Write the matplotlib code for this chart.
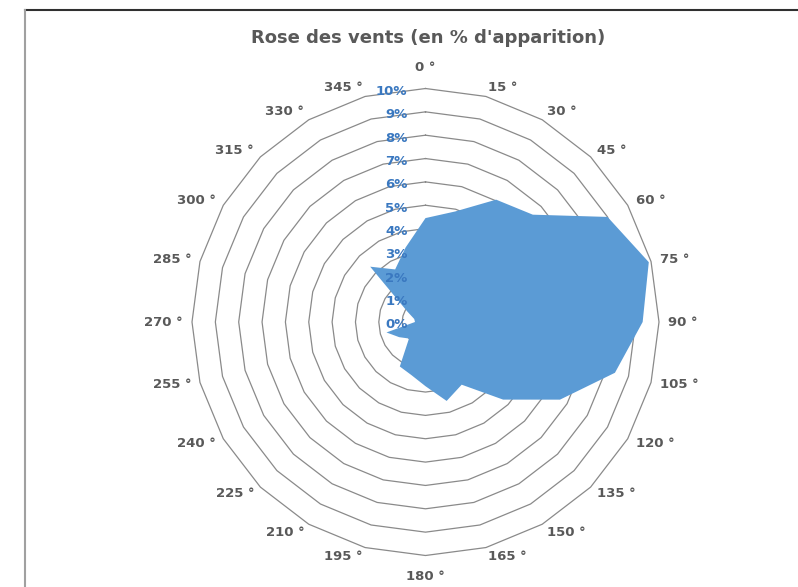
import numpy as np
import matplotlib
matplotlib.use("Agg")
import matplotlib.pyplot as plt
from matplotlib.lines import Line2D
from matplotlib.transforms import offset_copy

# ---- data ----
directions = [0, 15, 30, 45, 60, 75, 90, 105, 120, 135, 150, 165,
              180, 195, 210, 225, 240, 255, 270, 285, 300, 315, 330, 345]
frequency = [4.45, 4.9, 6.05, 6.5, 9.0, 9.9, 9.3, 8.4, 6.65, 4.7, 3.1, 3.5,
             2.75, 2.35, 2.2, 1.0, 1.3, 1.73, 0.45, 0.5, 0.9, 3.35, 2.6, 3.3]
ring_levels = [0, 1, 2, 3, 4, 5, 6, 7, 8, 9, 10]
title = "Rose des vents (en % d'apparition)"

FONT = "DejaVu Sans"
W, H = 798, 587
fig = plt.figure(figsize=(W / 100, H / 100), dpi=100)

cx, cy, R = 425.5, 322.0, 233.5
ax = fig.add_axes([(cx - R) / W, (H - cy - R) / H, 2 * R / W, 2 * R / H],
                  projection="polar")
ax.set_theta_zero_location("N")
ax.set_theta_direction(-1)
ax.set_ylim(0, 10)
ax.grid(False)
ax.set_xticks([])
ax.set_yticks([])
ax.spines["polar"].set_visible(False)
ax.patch.set_alpha(0)

theta = np.deg2rad(directions)
theta_c = np.append(theta, theta[0])

# ring gridlines (polygons)
for lv in ring_levels[1:]:
    ax.plot(theta_c, [lv] * len(theta_c), color="#8a8a8a", lw=0.9, zorder=1,
            clip_on=False)

# filled area
vals_c = np.append(frequency, frequency[0])
ax.fill(theta_c, vals_c, color="#5b9bd5", zorder=2, lw=0)

# percent labels
trans = offset_copy(ax.transData, fig=fig, x=-18, y=-3, units="dots")
for lv in ring_levels:
    ax.text(0, lv, f"{lv}%", transform=trans, ha="right", va="center",
            fontsize=9.5, fontweight="bold", color="#3a78c0", family=FONT,
            zorder=5)

# category labels (Excel-like anchoring)
for d in directions:
    t = np.deg2rad(d)
    if d % 180 == 0:
        r_lab, ha = 10 * 254.5 / R, "center"
    else:
        r_lab = 10 * 242.5 / R
        ha = "left" if d < 180 else "right"
    ax.text(t, r_lab, f"{d} °", ha=ha, va="center", fontsize=9.5,
            fontweight="bold", color="#595959", family=FONT, clip_on=False)

# title
fig.text(428 / W, 1 - 38 / H, title, ha="center", va="center", fontsize=13,
         fontweight="bold", color="#595959", family=FONT)

# frame (partial chart border)
fig.add_artist(Line2D([24.5 / W, 1], [1 - 10 / H, 1 - 10 / H],
                      transform=fig.transFigure, color="#303030", lw=1.5))
fig.add_artist(Line2D([24.5 / W, 24.5 / W], [0, 1 - 10 / H],
                      transform=fig.transFigure, color="#a0a0a0", lw=1.5))

fig.savefig("out.png", dpi=100)
